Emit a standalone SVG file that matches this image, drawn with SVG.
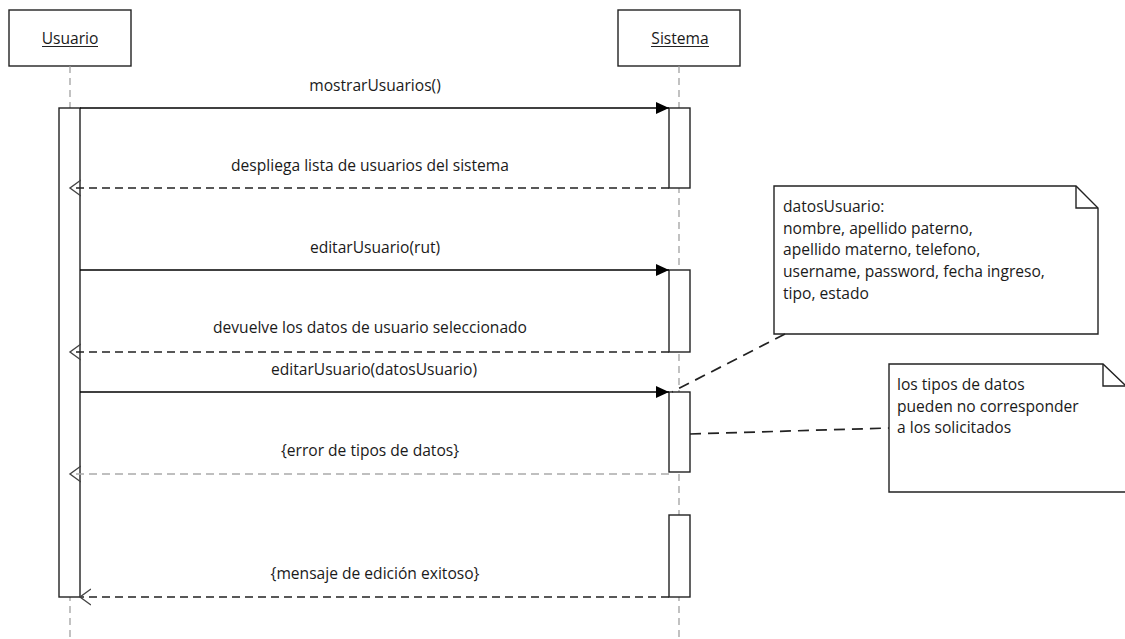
<svg xmlns="http://www.w3.org/2000/svg" width="1125" height="639" viewBox="0 0 1125 639">
<style>
text{font-family:"Open Sans","Liberation Sans",sans-serif;font-size:15.6px;fill:#1a1a1a}
.box{fill:#fff;stroke:#222;stroke-width:1.4}
.life{stroke:#999;stroke-width:1.2;stroke-dasharray:7,5;fill:none}
.act{fill:#fff;stroke:#222;stroke-width:1.4}
.msg{stroke:#000;stroke-width:1.5;fill:none}
.ret{stroke:#222;stroke-width:1.5;fill:none;stroke-dasharray:8,5}
.retg{stroke:#aaa;stroke-width:1.5;fill:none;stroke-dasharray:8,5}
.anc{stroke:#222;stroke-width:1.7;fill:none;stroke-dasharray:11,7}
.m{text-anchor:middle}
</style>
<defs>
<marker id="fill" markerWidth="14" markerHeight="12" refX="13" refY="6" orient="auto" markerUnits="userSpaceOnUse"><path d="M0,0 L13,6 L0,12 z" fill="#000"/></marker>
<marker id="open" markerWidth="14" markerHeight="18" refX="11" refY="9" orient="auto" markerUnits="userSpaceOnUse"><path d="M0,1 L11,9 L0,17" fill="none" stroke="#444" stroke-width="1.4"/></marker>
</defs>
<g id="Usuario">
<rect class="box" x="9" y="10" width="122" height="56"/>
<text class="m" x="70" y="44">Usuario</text>
<line x1="42" y1="46.5" x2="98" y2="46.5" stroke="#222" stroke-width="1.2"/>
<line class="life" x1="70" y1="66" x2="70" y2="639"/>
<rect class="act" x="59" y="108" width="21" height="489"/>
</g>
<g id="Sistema">
<rect class="box" x="618" y="10" width="122" height="56"/>
<text class="m" x="680" y="44">Sistema</text>
<line x1="651" y1="46.5" x2="709" y2="46.5" stroke="#222" stroke-width="1.2"/>
<line class="life" x1="679" y1="66" x2="679" y2="639"/>
<rect class="act" x="669" y="108" width="21" height="80"/>
<rect class="act" x="669" y="270" width="21" height="82"/>
<rect class="act" x="669" y="392" width="21" height="80"/>
<rect class="act" x="669" y="515" width="21" height="82"/>
</g>
<g id="note1">
<path class="box" d="M774,186 H1076 L1098,208 V334 H774 Z"/>
<path d="M1076,186 V208 H1098" fill="none" stroke="#222" stroke-width="1.4"/>
<text x="783" y="212">datosUsuario:</text>
<text x="783" y="234">nombre, apellido paterno,</text>
<text x="783" y="255">apellido materno, telefono,</text>
<text x="783" y="277">username, password, fecha ingreso,</text>
<text x="783" y="299">tipo, estado</text>
</g>
<g id="note2">
<path class="box" d="M889,364 H1103 L1126,386 V492 H889 Z"/>
<path d="M1103,364 V386 H1126" fill="none" stroke="#222" stroke-width="1.4"/>
<text x="897" y="390">los tipos de datos</text>
<text x="897" y="412">pueden no corresponder</text>
<text x="897" y="433">a los solicitados</text>
</g>
<g id="connectors">
<line class="msg" x1="80" y1="108" x2="669" y2="108" marker-end="url(#fill)"/>
<text class="m" x="375" y="91">mostrarUsuarios()</text>
<line class="ret" x1="669" y1="188" x2="70" y2="188" marker-end="url(#open)"/>
<text class="m" x="370" y="171">despliega lista de usuarios del sistema</text>
<line class="msg" x1="80" y1="270" x2="669" y2="270" marker-end="url(#fill)"/>
<text class="m" x="375" y="253">editarUsuario(rut)</text>
<line class="ret" x1="669" y1="352" x2="70" y2="352" marker-end="url(#open)"/>
<text class="m" x="370" y="333">devuelve los datos de usuario seleccionado</text>
<line class="msg" x1="80" y1="392" x2="669" y2="392" marker-end="url(#fill)"/>
<text class="m" x="374" y="375">editarUsuario(datosUsuario)</text>
<line class="retg" x1="669" y1="474" x2="70" y2="474" marker-end="url(#open)"/>
<text class="m" x="370" y="456">{error de tipos de datos}</text>
<line class="ret" x1="669" y1="597" x2="80" y2="597" marker-end="url(#open)"/>
<text class="m" x="375" y="579">{mensaje de edición exitoso}</text>
<line class="anc" x1="785" y1="334" x2="672" y2="392"/>
<line class="anc" x1="690" y1="434" x2="889" y2="428"/>
</g>
</svg>
